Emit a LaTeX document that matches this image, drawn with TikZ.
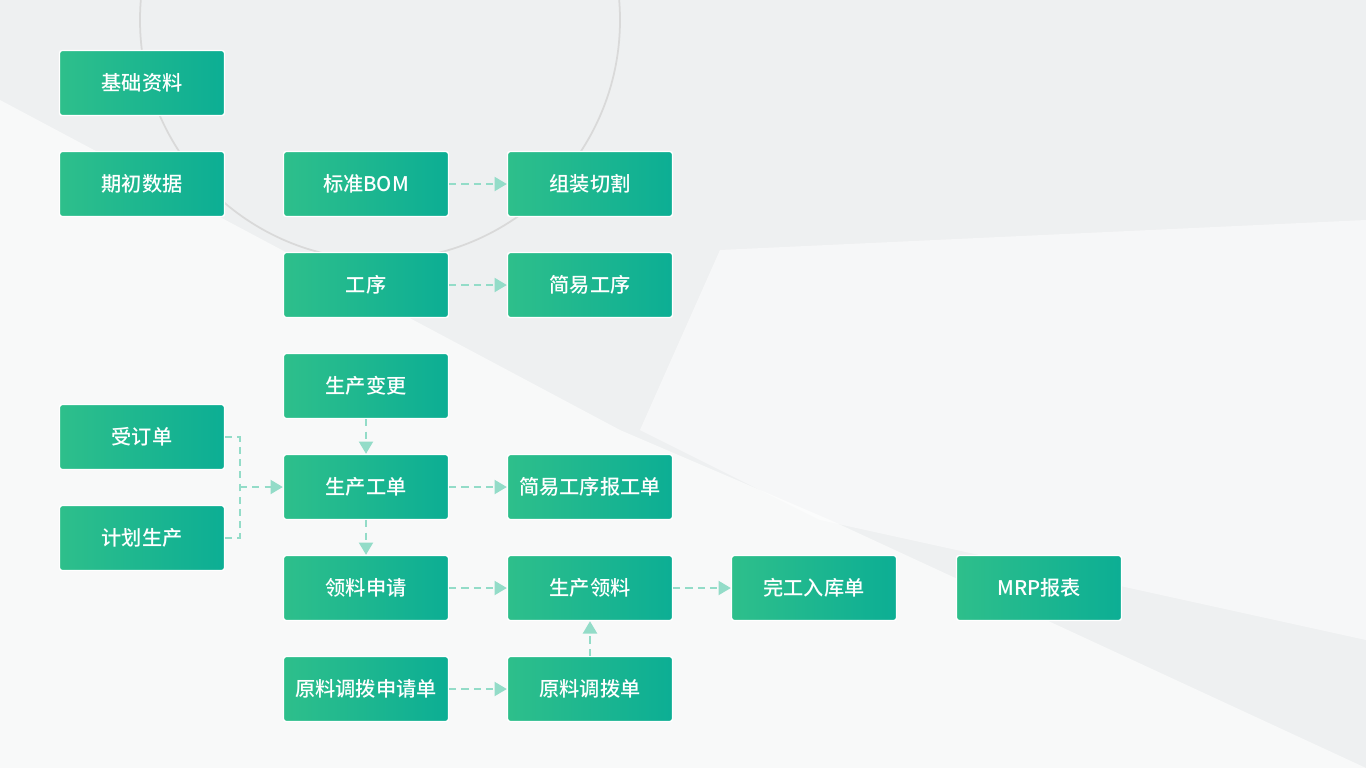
\documentclass[tikz,border=0pt]{standalone}
\usepackage{fontspec}
\setmainfont{Noto Sans CJK SC}[BoldFont={Noto Sans CJK SC Medium}]
\usetikzlibrary{arrows.meta,positioning}
\definecolor{boxA}{HTML}{2EBF8B}
\definecolor{boxB}{HTML}{0CAE94}
\definecolor{flow}{HTML}{93DCC8}
\definecolor{bg}{HTML}{EEF0F1}

\begin{document}
\begin{tikzpicture}[x=0.02cm, y=-0.02cm,
    box/.style = {draw=white, line width=0.8pt, rounded corners=1.5pt, left color=boxA, right color=boxB,
                  minimum width=3.3cm, minimum height=1.3cm, text=white, font=\fontsize{11.5}{13}\selectfont\bfseries},
    link/.style = {flow, line width=1.1pt, dash pattern=on 4pt off 3pt, -{Triangle[length=7pt,width=8pt]}},
    seg/.style = {flow, line width=1.1pt, dash pattern=on 4pt off 3pt}]
        \useasboundingbox (0,0) rectangle (1366,768);
        % background
        \begin{scope}
            \clip (0,0) rectangle (1366,768);
            \fill[bg] (0,0) rectangle (1366,768);
            \fill[white, opacity=0.6] (0,100) -- (620,430) -- (830,520) -- (1366,768) -- (0,768) -- cycle;
            \fill[white, opacity=0.5] (640,430) -- (720,250) -- (1366,220) -- (1366,640) -- (820,520) -- cycle;
            \draw[gray!30, line width=1pt] (380,20) circle[radius=240];
        \end{scope}

        % left column
        \node[box] (base) at (142,83) {基础资料};
        \node[box] (init) at (142,184) {期初数据};
        \node[box] (order) at (142,437) {受订单};
        \node[box] (plan) at (142,538) {计划生产};

        % second column
        \node[box] (bom) at (366,184) {标准BOM};
        \node[box] (proc) at (366,285) {工序};
        \node[box] (change) at (366,386) {生产变更};
        \node[box] (work) at (366,487) {生产工单};
        \node[box] (apply) at (366,588) {领料申请};
        \node[box] (trreq) at (366,689) {原料调拨申请单};

        % third column
        \node[box] (cut) at (590,184) {组装切割};
        \node[box] (sproc) at (590,285) {简易工序};
        \node[box] (report) at (590,487) {简易工序报工单};
        \node[box] (pick) at (590,588) {生产领料};
        \node[box] (trans) at (590,689) {原料调拨单};

        % right
        \node[box] (done) at (814,588) {完工入库单};
        \node[box] (mrp) at (1039,588) {MRP报表};

        \coordinate (join) at (240,487);
        \draw[seg] (order.east) -| (join);
        \draw[seg] (plan.east) -| (join);
        \draw[link] (join) -- (work);

        \draw[link] (bom) -- (cut);
        \draw[link] (proc) -- (sproc);
        \draw[link] (change) -- (work);
        \draw[link] (work) -- (report);
        \draw[link] (work) -- (apply);
        \draw[link] (apply) -- (pick);
        \draw[link] (pick) -- (done);
        \draw[link] (trreq) -- (trans);
        \draw[link] (trans) -- (pick);
    \end{tikzpicture}
\end{document}
